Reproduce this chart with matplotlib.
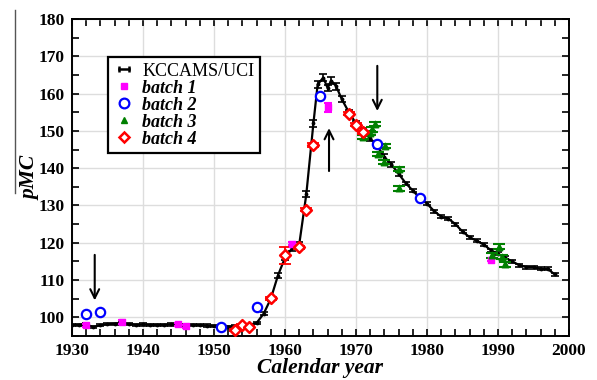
import matplotlib
matplotlib.use("Agg")
import matplotlib.pyplot as plt
from matplotlib.lines import Line2D
from matplotlib.legend_handler import HandlerLine2D

plt.rcParams['font.family'] = 'Liberation Serif'

# KCCAMS/UCI reference curve
kcc_year = [1930, 1931, 1932, 1933, 1934, 1935, 1936, 1937, 1938, 1939,
            1940, 1941, 1942, 1943, 1944, 1945, 1946, 1947, 1948, 1949,
            1950, 1951, 1952, 1953, 1954, 1955, 1956, 1957, 1958, 1959,
            1960, 1961, 1962, 1963, 1964, 1964.6, 1965.4, 1966.0, 1966.5,
            1967.2, 1968, 1969, 1970, 1971, 1972, 1973, 1974, 1975, 1976,
            1977, 1978, 1979, 1980, 1981, 1982, 1983, 1984, 1985, 1986,
            1987, 1988, 1989, 1990, 1991, 1992, 1993, 1994, 1995, 1996,
            1997, 1998]
kcc_pmc = [98.0, 98.0, 98.1, 97.4, 97.9, 98.2, 98.3, 98.5, 98.2, 98.0,
           98.1, 98.0, 98.0, 98.0, 98.1, 98.0, 97.9, 98.0, 97.9, 97.8,
           97.7, 97.6, 97.5, 97.6, 97.8, 98.0, 98.5, 101.0, 105.0, 111.2,
           116.0, 118.5, 119.5, 133.0, 152.0, 162.5, 164.3, 161.5, 163.5,
           162.0, 158.5, 155.0, 152.0, 150.0, 148.0, 146.0, 143.0, 141.0, 138.5,
           136.0, 134.0, 132.0, 130.5, 128.5, 127.0, 126.5, 125.0, 123.0, 121.5,
           120.5, 119.5, 118.0, 117.0, 116.0, 115.0, 114.0, 113.5, 113.5, 113.0,
           113.0, 111.5]
kcc_err = [0.3] * 27 + [0.5, 0.5, 0.7, 0.7, 0.7, 0.7, 0.8, 0.9, 0.9, 0.9,
                        0.9, 0.9, 0.9, 0.8, 0.7, 0.7, 0.7, 0.7, 0.7, 0.7,
                        0.7, 0.6] + [0.4] * 22

# samples
b1_year = [1932, 1937, 1945, 1946, 1961, 1966, 1989]
b1_pmc = [97.9, 98.7, 98.1, 97.6, 119.8, 156.3, 115.5]
b1_err = [0.4, 0.5, 0.4, 0.4, 0.5, 1.2, 0.5]

b2_year = [1932, 1934, 1951, 1956, 1965, 1973, 1979]
b2_pmc = [100.9, 101.4, 97.4, 102.8, 159.4, 146.5, 132.0]

b3_year = [1971, 1972, 1972.3, 1972.7, 1973.1, 1974, 1974.1, 1976, 1976,
           1989.1, 1990.1, 1990.5, 1991]
b3_pmc = [148.4, 149.5, 150.4, 151.9, 143.8, 141.7, 146.0, 139.8, 134.6,
          116.6, 119.0, 116.2, 114.2]
b3_err = [0.6] * 13

b4_year = [1953, 1954, 1955, 1958, 1960, 1962, 1963, 1964, 1969, 1970, 1971]
b4_pmc = [96.6, 97.9, 97.4, 105.1, 116.6, 118.8, 128.9, 146.2, 154.6, 151.6, 149.6]
b4_err = [0.3, 0.3, 0.3, 0.4, 2.3, 0.4, 0.4, 0.5, 0.4, 0.4, 0.4]

# arrows (x, tail y, head y)
arrow_x = [1933.2, 1966.2, 1973.0]
arrow_tail = [117.5, 138.5, 168.2]
arrow_head = [103.8, 151.5, 154.6]

fig = plt.figure(figsize=(5.97, 3.80), dpi=100)
ax = fig.add_axes([0.1206, 0.1158, 0.8325, 0.834])

ax.errorbar(kcc_year, kcc_pmc, yerr=kcc_err, color='black', lw=1.6,
            marker='.', ms=3.5, capsize=3, elinewidth=1.2, capthick=1.2, zorder=3)

ax.errorbar(b1_year, b1_pmc, yerr=b1_err, fmt='none', ecolor='#ff00ff',
            capsize=3, elinewidth=1.5, capthick=1.5, zorder=4)
ax.scatter(b1_year, b1_pmc, marker='s', s=22, color='#ff00ff', zorder=5)

ax.scatter(b2_year, b2_pmc, marker='o', s=45, facecolor='white',
           edgecolor='#0000ff', linewidths=1.6, zorder=5)

ax.errorbar(b3_year, b3_pmc, yerr=b3_err, fmt='none', ecolor='#008000',
            capsize=4.5, elinewidth=1.5, capthick=1.5, zorder=4)
ax.scatter(b3_year, b3_pmc, marker='^', s=22, color='#008000', zorder=5)

ax.errorbar(b4_year, b4_pmc, yerr=b4_err, fmt='none', ecolor='#ff0000',
            capsize=4, elinewidth=1.3, capthick=1.3, zorder=4)
ax.scatter(b4_year, b4_pmc, marker='D', s=30, facecolor='white',
           edgecolor='#ff0000', linewidths=1.8, zorder=6)

for x, t, h in zip(arrow_x, arrow_tail, arrow_head):
    ax.annotate('', xy=(x, h), xytext=(x, t),
                arrowprops=dict(arrowstyle='->', lw=1.5, color='black',
                                mutation_scale=16))

ax.set_xlim(1930, 2000)
ax.set_ylim(95, 180)
ax.set_xticks(range(1930, 2001, 10))
ax.set_xticks(range(1930, 2001, 2), minor=True)
ax.set_yticks(range(100, 181, 10))
ax.set_yticks(range(95, 181, 5), minor=True)
ax.grid(True, which='major', color='#dddddd', lw=1.0)
ax.set_axisbelow(True)
ax.tick_params(which='both', direction='in', top=True, right=True,
               length=5, width=1.2)
ax.tick_params(which='major', labelsize=12.5, pad=5)
for lab in ax.get_xticklabels() + ax.get_yticklabels():
    lab.set_fontweight('bold')
for sp in ax.spines.values():
    sp.set_linewidth(1.4)

ax.set_xlabel('Calendar year', fontsize=15.5, fontweight='bold',
              fontstyle='italic', labelpad=-1)
ax.set_ylabel('pMC', fontsize=15.5, fontweight='bold', fontstyle='italic',
              labelpad=-1)

kcc_handle = Line2D([], [], color='black', lw=1.8, marker='|', ms=5, mew=1.8)
handles = [
    kcc_handle,
    Line2D([], [], ls='none', marker='s', ms=5, color='#ff00ff'),
    Line2D([], [], ls='none', marker='o', ms=7, mfc='white', mec='#0000ff', mew=1.6),
    Line2D([], [], ls='none', marker='^', ms=5, color='#008000'),
    Line2D([], [], ls='none', marker='D', ms=5.5, mfc='white', mec='#ff0000', mew=1.8),
]
labels = ['KCCAMS/UCI', 'batch 1', 'batch 2', 'batch 3', 'batch 4']
leg = ax.legend(handles, labels, loc='upper left', bbox_to_anchor=(0.072, 0.88),
                fontsize=13, fancybox=False, edgecolor='black', framealpha=1,
                handlelength=1.2, handletextpad=0.4, labelspacing=0.0,
                borderpad=0.3, borderaxespad=0, numpoints=1,
                handler_map={kcc_handle: HandlerLine2D(numpoints=2)})
leg.get_frame().set_linewidth(1.6)
for t in leg.get_texts()[1:]:
    t.set_fontweight('bold')
    t.set_fontstyle('italic')

fig.add_artist(Line2D([15 / 597, 15 / 597], [1 - 10 / 380, 1 - 193 / 380],
                      color='#555555', lw=1.0))

fig.savefig('out.png', dpi=100)
